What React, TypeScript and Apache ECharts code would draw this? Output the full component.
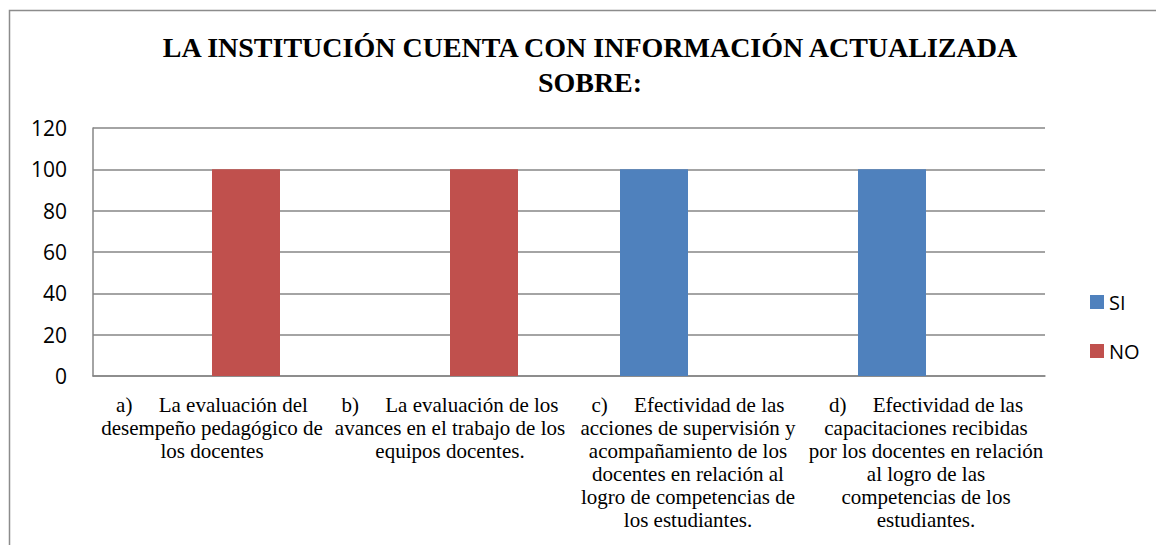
import React, { useEffect, useRef } from "react";
import * as echarts from "echarts";

const titleLines = ["LA INSTITUCIÓN CUENTA CON INFORMACIÓN ACTUALIZADA", "SOBRE:"];
const categories = [
  "a)     La evaluación del\ndesempeño pedagógico de\nlos docentes",
  "b)     La evaluación de los\navances en el trabajo de los\nequipos docentes.",
  "c)     Efectividad de las\nacciones de supervisión y\nacompañamiento de los\ndocentes en relación al\nlogro de competencias de\nlos estudiantes.",
  "d)     Efectividad de las\ncapacitaciones recibidas\npor los docentes en relación\nal logro de las\ncompetencias de los\nestudiantes.",
];
const seriesNames = ["SI", "NO"];
const siValues = [0, 0, 100, 100];
const noValues = [100, 100, 0, 0];
const yMin = 0;
const yMax = 120;
const yInterval = 20;

export default function App() {
  const ref = useRef<HTMLDivElement>(null);
  useEffect(() => {
    if (!ref.current) return;
    const chart = echarts.init(ref.current, null, { renderer: "svg" });
    const serif = "'Liberation Serif', 'Times New Roman', serif";
    const sans = "'Open Sans', 'Liberation Sans', sans-serif";
    chart.setOption({
      animation: false,
      backgroundColor: "#ffffff",
      graphic: [
        {
          type: "rect",
          shape: { x: 9.5, y: 10.5, width: 1200, height: 600 },
          style: { fill: "none", stroke: "#8c8c8c", lineWidth: 1.5 },
          silent: true,
        },
        {
          type: "text",
          x: 590,
          y: 65,
          style: {
            text: titleLines.join("\n"),
            font: `bold 28px ${serif}`,
            fill: "#000000",
            align: "center",
            verticalAlign: "middle",
            lineHeight: 35,
          },
        },
      ],
      legend: {
        orient: "vertical",
        left: 1085,
        top: 287,
        itemWidth: 14,
        itemHeight: 14,
        itemGap: 29,
        icon: "rect",
        textStyle: { fontFamily: sans, fontSize: 20, color: "#000", lineHeight: 20 },
        data: seriesNames,
      },
      grid: { left: 93, top: 128, right: 111, bottom: 169, containLabel: false },
      xAxis: {
        type: "category",
        data: categories,
        axisLine: { show: true, lineStyle: { color: "#868686", width: 1.5 } },
        axisTick: { show: false },
        axisLabel: {
          interval: 0,
          margin: 17,
          fontFamily: serif,
          fontSize: 21,
          lineHeight: 23,
          color: "#000",
          align: "center",
        },
      },
      yAxis: {
        type: "value",
        min: yMin,
        max: yMax,
        interval: yInterval,
        axisLine: { show: true, lineStyle: { color: "#868686", width: 1.5 } },
        axisTick: { show: false },
        splitLine: { show: true, lineStyle: { color: "#868686", width: 1.5 } },
        axisLabel: { fontFamily: sans, fontSize: 21, color: "#000", margin: 26 },
      },
      series: [
        {
          name: seriesNames[0],
          type: "bar",
          data: siValues,
          itemStyle: { color: "#4F81BD" },
          barGap: "0%",
          barCategoryGap: "42.86%",
        },
        {
          name: seriesNames[1],
          type: "bar",
          data: noValues,
          itemStyle: { color: "#C0504D" },
          barGap: "0%",
          barCategoryGap: "42.86%",
        },
      ],
    });
    return () => chart.dispose();
  }, []);
  return (
    <div
      ref={ref}
      style={{ position: "absolute", left: 0, top: 0, width: 1156, height: 545 }}
    />
  );
}
